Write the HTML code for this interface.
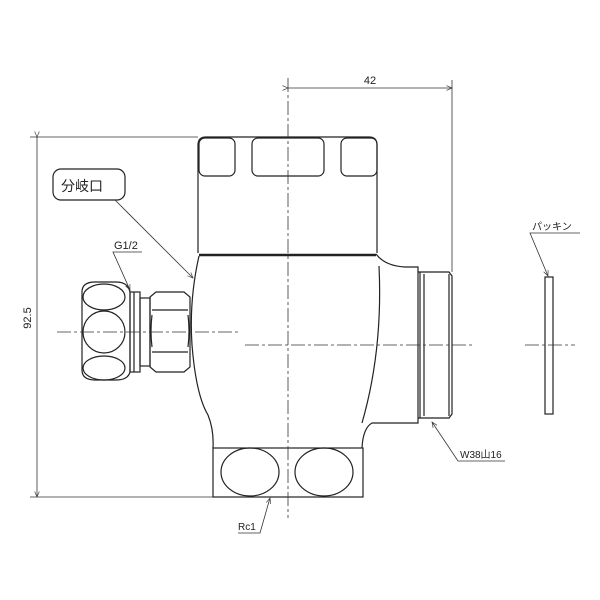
<!DOCTYPE html>
<html><head><meta charset="utf-8"><style>body{margin:0;background:#fff}svg{display:block}text{font-family:"Liberation Sans","Noto Sans CJK JP",sans-serif;fill:#222}</style></head><body>
<svg width="600" height="600" viewBox="0 0 600 600" xmlns="http://www.w3.org/2000/svg">
<defs><marker id="a" markerWidth="8" markerHeight="8" refX="7" refY="4" orient="auto"><path d="M0,1 L7,4 L0,7" fill="none" stroke="#333" stroke-width="0.8"/></marker></defs>
<g fill="none" stroke="#222" stroke-width="1.2">
<!-- top body -->
<path d="M198,253 L198,145 Q198,137 206,137 L369,137 Q377,137 377,145 L377,253"/>
<rect x="199" y="138" width="36" height="38" rx="6"/>
<rect x="252" y="138" width="72" height="38" rx="6"/>
<rect x="341" y="138" width="36" height="38" rx="6"/>
<line x1="199" y1="255" x2="376" y2="255" stroke-width="2.5"/>
<!-- lower body -->
<path d="M199,256 Q189,300 192,345 Q196,395 208,415 Q214,430 213,448"/>
<path d="M376,254 Q385,266 405,267 L418,267 L418,423 L372,423 Q363,428 362,448"/>
<path d="M379,266 Q383,350 362,423"/>
<rect x="213" y="448" width="150" height="49"/>
<ellipse cx="250" cy="472" rx="29" ry="24"/>
<ellipse cx="324" cy="472" rx="29" ry="24"/>
<!-- thread -->
<path d="M418,272 L424,272 L449,272 L452,276 L452,414 L449,418 L424,418 L418,418"/>
<line x1="424" y1="274" x2="424" y2="416"/>
<line x1="449" y1="274" x2="449" y2="416"/>
<line x1="420" y1="272" x2="420" y2="418"/>
<!-- packing -->
<rect x="545" y="277" width="8" height="137"/>
<!-- left nut -->
<path d="M82,292 Q82,282 95,282 L116,282 Q128,282 130,292 L130,372 Q128,380 116,380 L95,380 Q82,380 82,370 Z"/>
<ellipse cx="104" cy="297" rx="21" ry="13"/>
<circle cx="104" cy="332" r="21"/>
<ellipse cx="104" cy="368" rx="21" ry="12"/>
<rect x="130" y="292" width="10" height="80"/>
<line x1="134" y1="292" x2="134" y2="372"/>
<rect x="140" y="298" width="10" height="68"/>
<path d="M150,297 L156,292 L184,292 L190,297 L190,367 L184,372 L156,372 L150,367 Z"/>
<path d="M152,310 L188,310 M152,352 L188,352 M152,315 Q150,331 152,347 M188,315 Q190,331 188,347"/>
<!-- callout -->
<rect x="53" y="169" width="72" height="31" rx="8"/>
</g>
<g stroke="#333" stroke-width="0.8" fill="none">
<!-- centerlines -->
<line x1="288" y1="78" x2="288" y2="518" stroke-dasharray="14,3,3,3"/>
<line x1="245" y1="345" x2="472" y2="345" stroke-dasharray="14,3,3,3"/>
<line x1="525" y1="345" x2="575" y2="345" stroke-dasharray="14,3,3,3"/>
<line x1="57" y1="332" x2="240" y2="332" stroke-dasharray="14,3,3,3"/>
<!-- dims -->
<line x1="452" y1="80" x2="452" y2="272"/>
<line x1="288" y1="88" x2="452" y2="88" marker-start="url(#a)" marker-end="url(#a)"/>
<line x1="30" y1="137" x2="198" y2="137"/>
<line x1="30" y1="497" x2="213" y2="497"/>
<line x1="37" y1="137" x2="37" y2="497" marker-start="url(#a)" marker-end="url(#a)"/>
<!-- leaders -->
<line x1="115" y1="200" x2="193" y2="278" marker-end="url(#a)"/>
<polyline points="142,252 113,252 130,290" marker-end="url(#a)"/>
<polyline points="580,233 530,233 548,276" marker-end="url(#a)"/>
<polyline points="505,461 458,461 432,422" marker-end="url(#a)"/>
<polyline points="238,533 260,533 270,498" marker-end="url(#a)"/>
</g>
<text x="370" y="84" font-size="11" text-anchor="middle">42</text>
<text x="31" y="318" font-size="11" text-anchor="middle" transform="rotate(-90 31 318)">92.5</text>
<text x="61" y="191" font-size="14">分岐口</text>
<text x="114" y="249" font-size="11">G1/2</text>
<text x="532" y="230" font-size="10">パッキン</text>
<text x="460" y="458" font-size="10">W38山16</text>
<text x="238" y="530" font-size="10">Rc1</text>
</svg>
</body></html>
